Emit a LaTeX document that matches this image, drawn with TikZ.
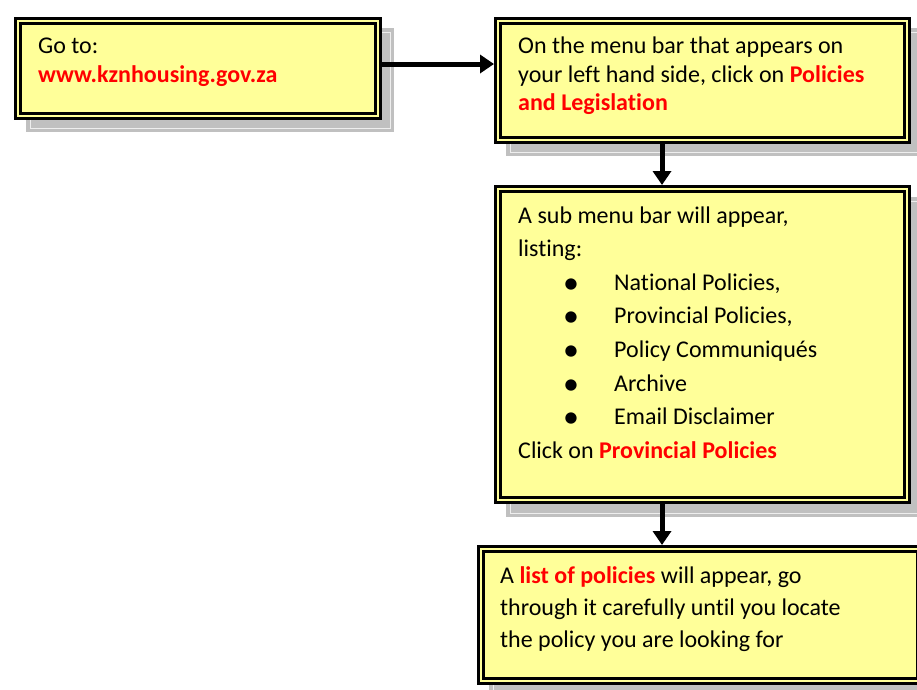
\documentclass[tikz,border=0pt]{standalone}
\usepackage{fontspec}
\setmainfont{Carlito}[Ligatures=NoCommon]
\usetikzlibrary{arrows.meta,calc}
\definecolor{boxyellow}{HTML}{FFFF99}
\definecolor{shadowgray}{HTML}{C0C0C0}
\definecolor{shadowline}{HTML}{EEEEEE}
\definecolor{linkred}{HTML}{FF0000}
\newcommand{\hl}[1]{\textcolor{linkred}{\bfseries #1}}
\begin{document}
\begin{tikzpicture}[x=1pt,y=-1pt,
  stepbox/.style={draw=black, line width=2.7pt, double=boxyellow, double distance=2.5pt,
    fill=boxyellow, inner sep=0pt, outer sep=4pt, anchor=north west, rectangle},
  shadowbox/.style={fill=shadowgray},
  shadowedge/.style={draw=shadowline, line width=1pt},
  txt/.style={anchor=base west, inner sep=0pt, font=\fontsize{24}{28}\selectfont},
  bullet/.style={anchor=base, inner sep=0pt, font=\fontsize{32}{32}\selectfont},
  flow/.style={line width=5pt, -{Triangle[width=18pt,length=14pt]}}]
\useasboundingbox (0,0) rectangle (917,689);
% shadows
\fill[shadowbox] (26,28) rectangle (394,132);
\draw[shadowedge] (30,32) rectangle (390,128);
\fill[shadowbox] (506,28) rectangle (925,156);
\draw[shadowedge] (510,32) rectangle (921,152);
\fill[shadowbox] (506,197) rectangle (925,517);
\draw[shadowedge] (510,201) rectangle (921,513);
\fill[shadowbox] (489,557) rectangle (935,700);
\draw[shadowedge] (493,561) rectangle (931,696);
% boxes
\node[stepbox, minimum width=360pt, minimum height=95pt] (b1) at (14,17) {};
\node[stepbox, minimum width=409pt, minimum height=119pt] (b2) at (494,17) {};
\node[stepbox, minimum width=409pt, minimum height=311pt] (b3) at (494,185) {};
\node[stepbox, minimum width=439pt, minimum height=132pt] (b4) at (477,545) {};
% texts box 1
\node[txt] (t11) at (38,53) {Go to:};
\node[txt] (t12) at (38,82) {\hl{www.kznhousing.gov.za}};
% texts box 2
\node[txt] (t21) at (518,53) {On the menu bar that appears on};
\node[txt] (t22) at (518,82) {your left hand side, click on \hl{Policies}};
\node[txt] (t23) at (518,110) {\hl{and Legislation}};
% texts box 3
\node[txt] (t31) at (518,223) {A sub menu bar will appear,};
\node[txt] (t32) at (518,256) {listing:};
\foreach \y/\s [count=\i] in {290/{National Policies,},323/{Provincial Policies,},357/{Policy Communiqués},391/Archive,424/{Email Disclaimer}}{
  \node[bullet] (bul\i) at (571,\y+3) {•};
  \node[txt] (item\i) at (614,\y) {\s};
}
\node[txt] (t33) at (518,458) {Click on \hl{Provincial Policies}};
% texts box 4
\node[txt] (t41) at (500,583) {A \hl{list of policies} will appear, go};
\node[txt] (t42) at (500,615) {through it carefully until you locate};
\node[txt] (t43) at (500,647) {the policy you are looking for};
% connectors
\coordinate (ax) at (662,0);
\draw[flow] (b1.east |- 0,64) -- (b2.west |- 0,64);
\draw[flow] (b2.south -| ax) -- (b3.north -| ax);
\draw[flow] (b3.south -| ax) -- (b4.north -| ax);
\end{tikzpicture}
\end{document}
